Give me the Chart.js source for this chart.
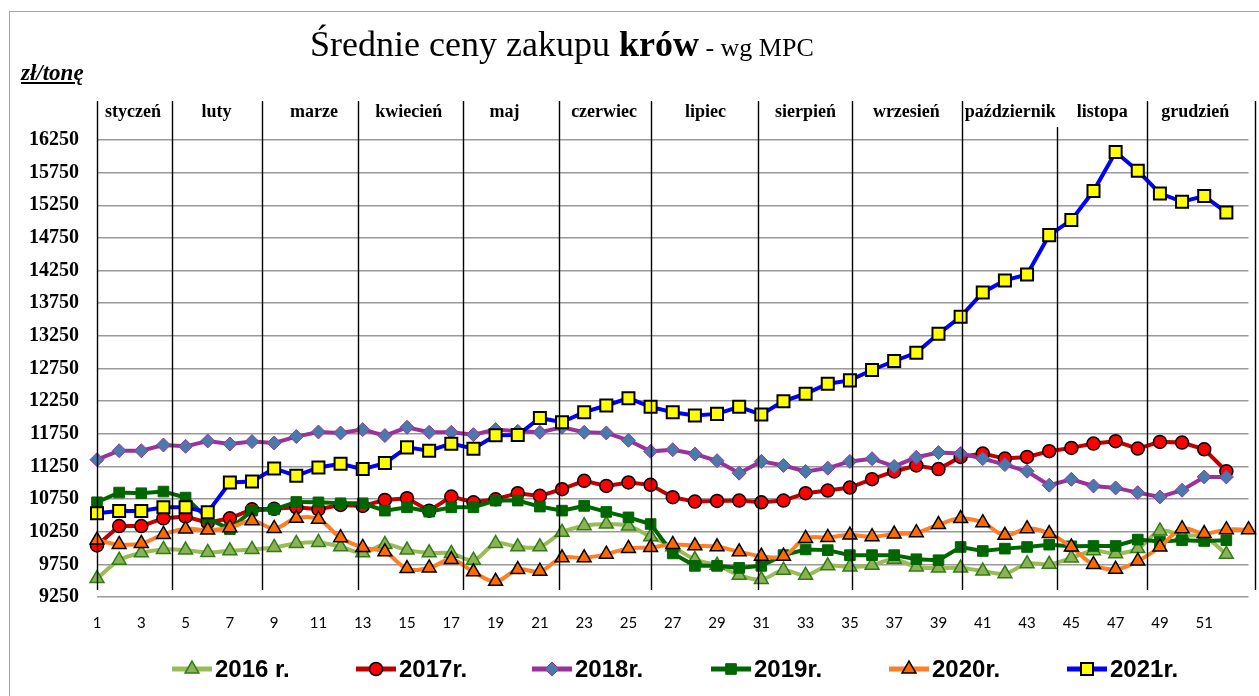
<!DOCTYPE html>
<html>
<head>
<meta charset="utf-8">
<script src="https://cdn.jsdelivr.net/npm/chart.js@4.4.1/dist/chart.umd.min.js"></script>
<style>
  html, body { margin: 0; padding: 0; background: #fff; width: 1259px; height: 696px; overflow: hidden; }
  #frame { position: absolute; left: 9px; top: 11px; width: 1300px; height: 720px; border: 1.5px solid #a3a3a3; box-sizing: border-box; }
  #wrap { position: absolute; left: 0; top: 0; width: 1259px; height: 696px; }
  #title { position: absolute; left: 310px; top: 26px; font-family: "Liberation Serif", serif; font-size: 36px; line-height: 36px; white-space: nowrap; color: #000; }
  #title b { font-weight: bold; }
  #title .small { font-size: 26px; }
  #unit { position: absolute; left: 21px; top: 61px; font-family: "Liberation Serif", serif; font-size: 23px; line-height: 23px; font-weight: bold; font-style: italic; text-decoration: underline; white-space: nowrap; color: #000; }
</style>
</head>
<body>
<div id="frame"></div>
<div id="wrap"><canvas id="c"></canvas></div>
<div id="title">Średnie ceny zakupu <b>krów</b><span class="small"> - wg MPC</span></div>
<div id="unit">zł/tonę</div>
<script>
// ---------- DATA ----------
const weeks = ['1','2','3','4','5','6','7','8','9','10','11','12','13','14','15','16','17','18','19','20',
  '21','22','23','24','25','26','27','28','29','30','31','32','33','34','35','36','37','38','39','40',
  '41','42','43','44','45','46','47','48','49','50','51','52','53'];

const yTickValues = [9250, 9750, 10250, 10750, 11250, 11750, 12250, 12750, 13250, 13750, 14250, 14750, 15250, 15750, 16250];

const monthNames = ['styczeń','luty','marze','kwiecień','maj','czerwiec','lipiec','sierpień','wrzesień','październik','listopa','grudzień'];
const monthBounds = [1, 4.4, 8.45, 12.8, 17.55, 21.85, 26, 30.85, 35.1, 40.05, 44.35, 48.4, 53.3];
const monthCenters = [2.63, 6.4, 10.8, 15.08, 19.4, 23.9, 28.48, 32.99, 37.55, 42.24, 46.4, 50.6];

const s2016 = [9532, 9814, 9927, 9978, 9968, 9932, 9958, 9978, 10009, 10070,
  10086, 10019, 9927, 10055, 9968, 9927, 9917, 9814, 10070, 10019,
  10019, 10240, 10342, 10368, 10337, 10173, 10019, 9824, 9737, 9583,
  9517, 9660, 9583, 9727, 9711, 9737, 9830, 9710, 9694, 9694,
  9648, 9608, 9761, 9751, 9848, 9960, 9914, 9991, 10262, 10195,
  10170, 9904];
const s2017 = [10040, 10337, 10337, 10455, 10481, 10388, 10455, 10593, 10600, 10624,
  10593, 10660, 10645, 10737, 10763, 10573, 10788, 10701, 10747, 10840,
  10799, 10901, 11029, 10952, 11004, 10968, 10778, 10711, 10722, 10727,
  10701, 10727, 10840, 10881, 10927, 11055, 11173, 11265, 11209, 11396,
  11447, 11370, 11396, 11483, 11534, 11600, 11636, 11524, 11626, 11615,
  11513, 11176];
const s2018 = [11353, 11491, 11491, 11578, 11558, 11640, 11594, 11630, 11609, 11707,
  11778, 11763, 11814, 11722, 11850, 11773, 11773, 11737, 11814, 11788,
  11773, 11850, 11773, 11763, 11650, 11481, 11506, 11440, 11337, 11147,
  11327, 11265, 11173, 11224, 11327, 11368, 11250, 11390, 11462, 11447,
  11370, 11278, 11176, 10962, 11053, 10951, 10921, 10849, 10783, 10885,
  11089, 11089];
const s2019 = [10701, 10850, 10840, 10865, 10773, 10450, 10290, 10573, 10593, 10706,
  10700, 10686, 10686, 10573, 10624, 10558, 10624, 10624, 10727, 10727,
  10635, 10573, 10645, 10553, 10470, 10368, 9917, 9727, 9727, 9696,
  9727, 9891, 9978, 9968, 9891, 9891, 9891, 9829, 9814, 10016,
  9955, 9991, 10016, 10052, 10027, 10032, 10032, 10129, 10100, 10119,
  10108, 10119];
const s2020 = [10122, 10055, 10070, 10209, 10291, 10276, 10312, 10419, 10301, 10455,
  10440, 10158, 10009, 9942, 9686, 9696, 9824, 9635, 9491, 9670,
  9645, 9850, 9850, 9906, 9994, 10009, 10055, 10035, 10019, 9942,
  9876, 9876, 10147, 10163, 10199, 10173, 10214, 10235, 10359, 10451,
  10389, 10195, 10297, 10221, 10016, 9746, 9674, 9802, 10016, 10297,
  10221, 10282, 10282];
const s2021 = [10532, 10568, 10568, 10624, 10624, 10547, 11004, 11019, 11219, 11106,
  11234, 11291, 11209, 11301, 11542, 11491, 11599, 11522, 11727, 11732,
  11993, 11927, 12081, 12183, 12296, 12163, 12081, 12029, 12055, 12163,
  12045, 12250, 12363, 12517, 12568, 12727, 12865, 12990, 13281, 13542,
  13915, 14099, 14191, 14793, 15023, 15468, 16066, 15779, 15432, 15304,
  15391, 15141];

const seriesNames = ['2016 r.', '2017r.', '2018r.', '2019r.', '2020r.', '2021r.'];

// ---------- PLUGINS ----------
const monthPlugin = {
  id: 'months',
  afterDatasetsDraw(chart) {
    const ctx = chart.ctx, x = chart.scales.x;
    ctx.save();
    ctx.strokeStyle = '#000';
    ctx.lineWidth = 1.4;
    monthBounds.forEach((b, i) => {
      const px = Math.round(x.getPixelForValue(b - 1)) + 0.5;
      const top = (i === 10) ? 127 : 101;
      ctx.beginPath();
      ctx.moveTo(px, top);
      ctx.lineTo(px, 590);
      ctx.stroke();
    });
    ctx.fillStyle = '#000';
    ctx.font = 'bold 18px "Liberation Serif"';
    ctx.textAlign = 'center';
    ctx.textBaseline = 'alphabetic';
    monthNames.forEach((m, i) => {
      ctx.fillText(m, x.getPixelForValue(monthCenters[i] - 1), 117);
    });
    ctx.restore();
  }
};

const legendPlugin = {
  id: 'lineLegend',
  afterDraw(chart, args, opts) {
    const ctx = chart.ctx;
    const y = opts.y;
    ctx.save();
    chart.data.datasets.forEach((ds, i) => {
      const tx = opts.positions[i];
      const x0 = tx - 43, x1 = tx - 3;
      ctx.strokeStyle = ds.borderColor;
      ctx.lineWidth = 5;
      ctx.beginPath();
      ctx.moveTo(x0, y);
      ctx.lineTo(x1, y);
      ctx.stroke();
      ctx.fillStyle = ds.pointBackgroundColor;
      ctx.strokeStyle = ds.pointBorderColor;
      ctx.lineWidth = ds.pointBorderWidth;
      Chart.helpers.drawPoint(ctx, {
        pointStyle: ds.pointStyle, rotation: 0,
        radius: ds.pointRadius, borderWidth: ds.pointBorderWidth
      }, (x0 + x1) / 2, y);
      ctx.fillStyle = '#000';
      ctx.font = 'bold 24px "Liberation Sans"';
      ctx.textAlign = 'left';
      ctx.textBaseline = 'middle';
      ctx.fillText(ds.label, tx, y + 1);
    });
    ctx.restore();
  }
};

// ---------- CHART ----------
function mk(label, data, line, fill, border, bw, style, r, order, tension) {
  return {
    label, data, order,
    borderColor: line, borderWidth: 4,
    pointStyle: style, pointRadius: r, pointHoverRadius: r,
    pointBackgroundColor: fill, pointBorderColor: border, pointBorderWidth: bw,
    tension: tension, fill: false
  };
}

new Chart(document.getElementById('c'), {
  type: 'line',
  data: {
    labels: weeks,
    datasets: [
      mk(seriesNames[0], s2016, '#9bbb59', '#8db255', '#2f7d16', 1.5, 'triangle', 8, 6, 0.35),
      mk(seriesNames[1], s2017, '#c00000', '#ff0000', '#000000', 1.5, 'circle', 6.5, 5, 0),
      mk(seriesNames[2], s2018, '#9a3399', '#4a7aab', '#9a3399', 1, 'rectRot', 7, 4, 0),
      mk(seriesNames[3], s2019, '#006600', '#006600', '#006600', 1, 'rect', 7.5, 3, 0),
      mk(seriesNames[4], s2020, '#ff7f27', '#ff6a00', '#000000', 1.5, 'triangle', 8, 2, 0.4),
      mk(seriesNames[5], s2021, '#0000ff', '#ffff00', '#000000', 2, 'rect', 8.5, 1, 0)
    ]
  },
  options: {
    responsive: true,
    maintainAspectRatio: false,
    devicePixelRatio: 1,
    animation: false,
    events: [],
    layout: { padding: { top: 140, right: 10, left: 0, bottom: 0 } },
    plugins: {
      legend: { display: false },
      title: { display: false },
      tooltip: { enabled: false },
      lineLegend: { y: 669, positions: [215, 399, 575, 754, 932, 1110] }
    },
    scales: {
      x: {
        type: 'category',
        offset: false,
        grid: { display: false, drawTicks: false },
        border: { display: false },
        ticks: {
          autoSkip: false, maxRotation: 0, minRotation: 0, padding: 17,
          color: '#000', font: { family: 'Lato', size: 15 },
          callback: function (v, i) { return (i % 2 === 0 && i < 52) ? weeks[i] : ''; }
        },
        afterFit: (s) => { s.height = 99; s.paddingLeft = 0; s.paddingRight = 0; }
      },
      y: {
        min: 9250, max: 16250,
        afterBuildTicks: (s) => { s.ticks = yTickValues.map(v => ({ value: v })); },
        grid: { color: '#9a9a9a', lineWidth: 1.5, drawTicks: false },
        border: { display: false },
        ticks: {
          padding: 18, color: '#000',
          font: { family: 'Liberation Serif', size: 20, weight: 'bold' },
          callback: (v) => String(v)
        },
        afterFit: (s) => { s.width = 97; s.paddingTop = 0; s.paddingBottom = 0; }
      }
    }
  },
  plugins: [monthPlugin, legendPlugin]
});
</script>
</body>
</html>
